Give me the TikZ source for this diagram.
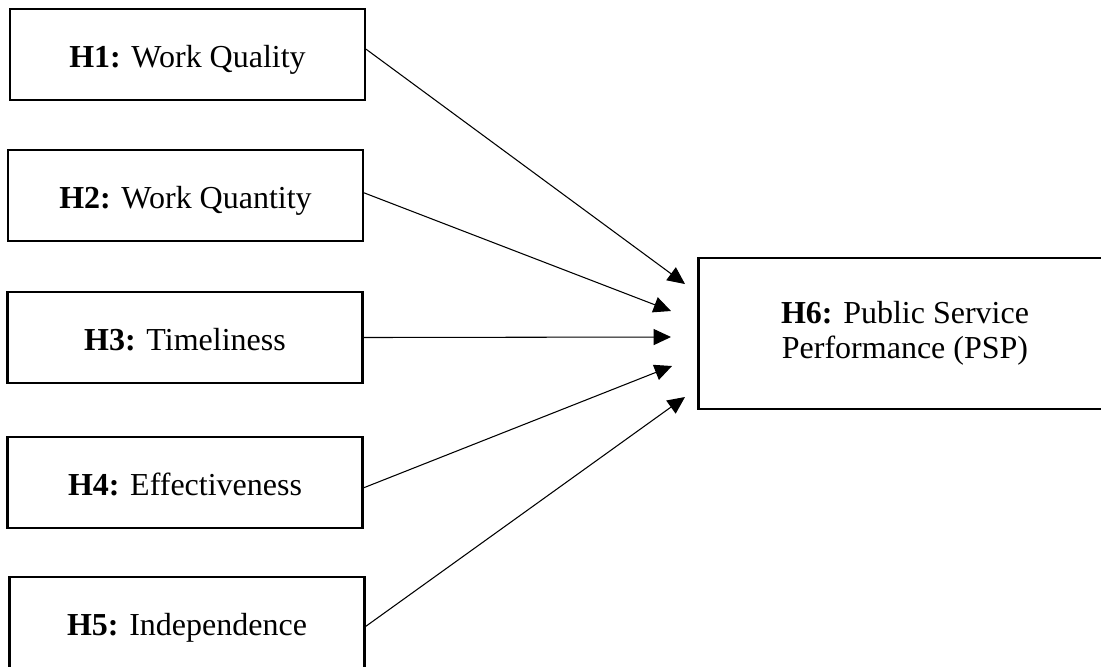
\documentclass[tikz,border=0pt]{standalone}
\usepackage{fontspec}
\setmainfont{Liberation Serif}
\usepackage{tikz}
\usetikzlibrary{arrows.meta}

\begin{document}
\begin{tikzpicture}
		[x=0.375pt,y=-0.375pt,
		 hyp/.style= {draw=black,line width=0.9pt,rectangle,inner sep=0pt,
			minimum width=133pt,minimum height=34pt,font=\fontsize{12}{13.2}\selectfont},
		 lnk/.style= {line width=0.4pt,-{Triangle[length=6.5pt,width=6pt]}}]

		\clip (0,0) rectangle (1101,666);

		\node[hyp,minimum width=155pt,minimum height=56.6pt,align=center] (h6) at (905,333.5)
			{\textbf{H6:} Public Service\\Performance (PSP)}
		;

		\begin{scope}[every node/.append style={text height=12pt,text depth=2pt}]
		\node[hyp] (h1) at (187.5,54.5) {\textbf{H1:} Work Quality};
		\node[hyp] (h2) at (185.5,195.5) {\textbf{H2:} Work Quantity};
		\node[hyp] (h3) at (185,337.5) {\textbf{H3:} Timeliness};
		\node[hyp] (h4) at (185,482.5) {\textbf{H4:} Effectiveness};
		\node[hyp] (h5) at (187,622.5) {\textbf{H5:} Independence};
		\end{scope}

		% arrow tips stop short of the PSP box
		\coordinate (t1) at (685,284);
		\coordinate (t2) at (671,311);
		\coordinate (t3) at (671,337);
		\coordinate (t4) at (672,366);
		\coordinate (t5) at (685,397);

		\draw[lnk] ([yshift=2pt]h1.east) -- (t1);
		\draw[lnk] ([yshift=1pt]h2.east) -- (t2);
		\draw[lnk] (h3.east) -- (t3);
		\draw[lnk] ([yshift=-2pt]h4.east) -- (t4);
		\draw[lnk] ([yshift=-1.5pt]h5.east) -- (t5);

	\end{tikzpicture}
\end{document}
